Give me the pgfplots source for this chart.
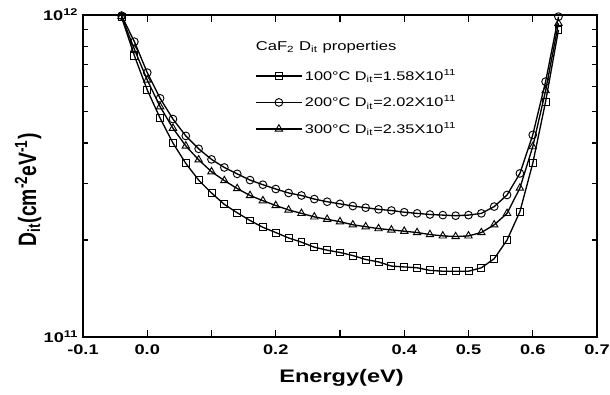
\documentclass[border=0pt]{standalone}
\usepackage{fontspec}
\setmainfont{Liberation Sans}
\usepackage{pgfplots}
\pgfplotsset{compat=1.18}
\newcommand{\wx}[1]{\scalebox{1.3}[1]{#1}}
\begin{document}
\begin{tikzpicture}
\useasboundingbox (-62.25pt,-43.5pt) rectangle (395.25pt,252.75pt);
\begin{semilogyaxis}[
  at={(0pt,0pt)}, anchor=south west,
  scale only axis,
  width=385.5pt, height=241.5pt,
  xmin=-0.1, xmax=0.7, ymin=1e11, ymax=1e12,
  xtick={-0.1,0,0.1,0.2,0.3,0.4,0.5,0.6,0.7},
  xticklabels={\wx{-0.1},\wx{0.0},,\wx{0.2},,\wx{0.4},\wx{0.5},\wx{0.6},\wx{0.7}},
  ytick={1e11,1e12},
  yticklabels={{\wx{10\textsuperscript{11}}},{\wx{10\textsuperscript{12}}}},
  minor ytick={2e11,3e11,4e11,5e11,6e11,7e11,8e11,9e11},
  tick align=inside,
  major tick length=5pt, minor tick length=3.5pt,
  tick style={black, line width=0.9pt},
  ticklabel style={font=\fontsize{10.5}{12}\selectfont\bfseries},
  xticklabel style={yshift=-2pt},
  xlabel={\scalebox{1.3}[1]{Energy(eV)}},
  ylabel={\scalebox{1}[1.3]{D\textsubscript{it}(cm\textsuperscript{-2}eV\textsuperscript{-1})}},
  xlabel style={font=\fontsize{13.6}{15}\selectfont\bfseries, at={(axis description cs:0.503,-0.127)}, anchor=center},
  ylabel style={font=\fontsize{14.5}{16}\selectfont\bfseries, at={(axis description cs:-0.107,0.457)}, anchor=center},
  axis line style={line width=1pt},
  legend style={at={(axis description cs:0.335,0.84)}, anchor=north west, draw=none, fill=none,
    font=\fontsize{9.4}{11}\selectfont, row sep=6pt, inner sep=0pt},
  legend cell align=left,
  legend image code/.code={
    \draw[mark repeat=2,mark phase=2,line width=1pt,#1] plot coordinates {(0cm,0cm)(0.6cm,0cm)(1.2cm,0cm)};
  },
  every axis plot/.append style={black, line width=1pt, mark options={solid, fill=white, line width=0.7pt}},
]
\addplot[mark=square, mark size=2.6pt] coordinates {
(-0.04,9.84e11)(-0.02,7.47e11)(0.00,5.85e11)(0.02,4.78e11)(0.04,4.0e11)(0.06,3.46e11)
(0.08,3.07e11)(0.10,2.80e11)(0.12,2.58e11)(0.14,2.43e11)(0.16,2.30e11)(0.18,2.19e11)
(0.20,2.11e11)(0.22,2.03e11)(0.24,1.97e11)(0.26,1.90e11)(0.28,1.86e11)(0.30,1.83e11)
(0.32,1.79e11)(0.34,1.74e11)(0.36,1.71e11)(0.38,1.66e11)(0.40,1.65e11)(0.42,1.64e11)
(0.44,1.61e11)(0.46,1.60e11)(0.48,1.60e11)(0.50,1.60e11)(0.52,1.64e11)(0.54,1.75e11)
(0.56,2.0e11)(0.58,2.45e11)(0.60,3.46e11)(0.62,5.38e11)(0.64,8.98e11)
};
\addlegendentry{\wx{100°C D\textsubscript{it}=1.58X10\textsuperscript{11}}}
\addplot[mark=o, mark size=2.9pt] coordinates {
(-0.04,9.95e11)(-0.02,8.26e11)(0.00,6.62e11)(0.02,5.51e11)(0.04,4.75e11)(0.06,4.21e11)
(0.08,3.84e11)(0.10,3.56e11)(0.12,3.36e11)(0.14,3.21e11)(0.16,3.07e11)(0.18,2.97e11)
(0.20,2.88e11)(0.22,2.80e11)(0.24,2.75e11)(0.26,2.68e11)(0.28,2.63e11)(0.30,2.59e11)
(0.32,2.55e11)(0.34,2.52e11)(0.36,2.49e11)(0.38,2.47e11)(0.40,2.44e11)(0.42,2.42e11)
(0.44,2.40e11)(0.46,2.39e11)(0.48,2.38e11)(0.50,2.39e11)(0.52,2.42e11)(0.54,2.54e11)
(0.56,2.76e11)(0.58,3.22e11)(0.60,4.24e11)(0.62,6.21e11)(0.64,9.88e11)
};
\addlegendentry{\wx{200°C D\textsubscript{it}=2.02X10\textsuperscript{11}}}
\addplot[mark=triangle, mark size=3.2pt] coordinates {
(-0.04,9.9e11)(-0.02,7.82e11)(0.00,6.28e11)(0.02,5.19e11)(0.04,4.45e11)(0.06,3.92e11)
(0.08,3.55e11)(0.10,3.26e11)(0.12,3.06e11)(0.14,2.89e11)(0.16,2.75e11)(0.18,2.65e11)
(0.20,2.56e11)(0.22,2.48e11)(0.24,2.42e11)(0.26,2.36e11)(0.28,2.32e11)(0.30,2.28e11)
(0.32,2.23e11)(0.34,2.20e11)(0.36,2.17e11)(0.38,2.15e11)(0.40,2.13e11)(0.42,2.11e11)
(0.44,2.08e11)(0.46,2.06e11)(0.48,2.05e11)(0.50,2.06e11)(0.52,2.11e11)(0.54,2.23e11)
(0.56,2.42e11)(0.58,2.90e11)(0.60,3.90e11)(0.62,5.82e11)(0.64,9.42e11)
};
\addlegendentry{\wx{300°C D\textsubscript{it}=2.35X10\textsuperscript{11}}}
\pgfplotsinvokeforeach{-0.1,0,0.1,0.2,0.3,0.4,0.5,0.6,0.7}{
  \draw[black, line width=0.9pt] (axis cs:#1,1e11) -- ++(0pt,5pt);
  \draw[black, line width=0.9pt] (axis cs:#1,1e12) -- ++(0pt,-5pt);
}
\pgfplotsinvokeforeach{2e11,3e11,4e11,5e11,6e11,7e11,8e11,9e11}{
  \draw[black, line width=0.9pt] (axis cs:-0.1,#1) -- ++(3.5pt,0pt);
  \draw[black, line width=0.9pt] (axis cs:0.7,#1) -- ++(-3.5pt,0pt);
}
\node[anchor=west, font=\fontsize{9.6}{11}\selectfont] at (axis description cs:0.327,0.90) {\wx{CaF\textsubscript{2} D\textsubscript{it} properties}};
\end{semilogyaxis}
\end{tikzpicture}
\end{document}
